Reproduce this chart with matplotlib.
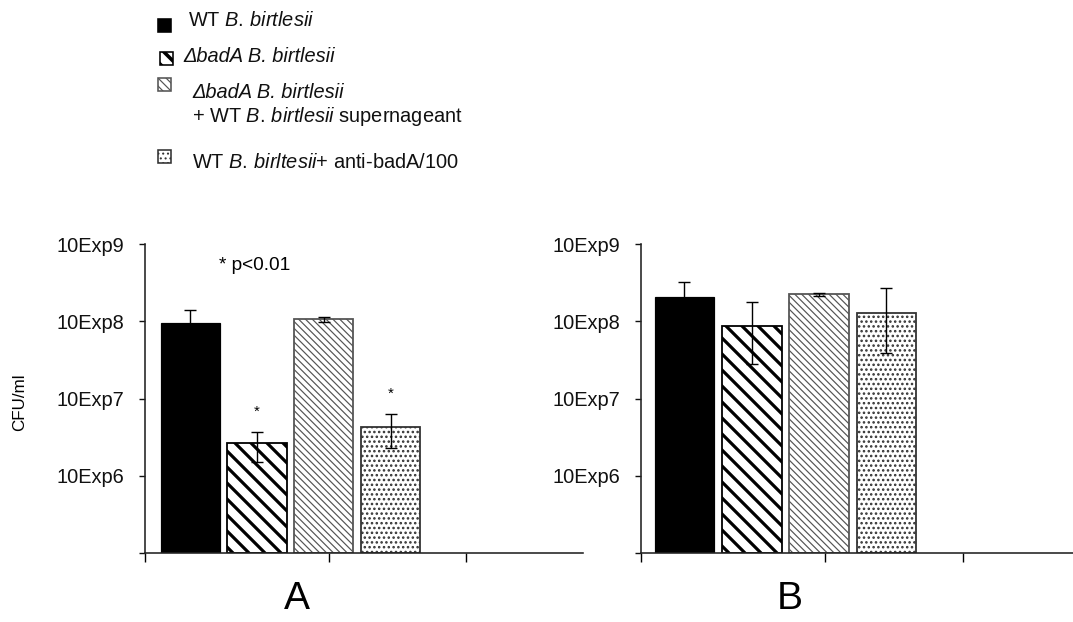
import matplotlib
matplotlib.use("Agg")
import matplotlib.pyplot as plt
from matplotlib.patches import Rectangle
import numpy as np

# ---------------- data ----------------
panels = ["A", "B"]
# each legend entry: list of (text, fully_italic) lines
series_labels = [
    [(r"WT $\mathit{B.\,birtlesii}$", False)],
    [("ΔbadA B. birtlesii", True)],
    [("ΔbadA B. birtlesii", True),
     (r"+ WT $\mathit{B.\,birtlesii}$ supernageant", False)],
    [(r"WT $\mathit{B.\,birltesii}$+ anti-badA/100", False)],
]
values_A = [9.6e7, 2.63e6, 1.07e8, 4.24e6]
err_lo_A = [0.44e8, 1.11e6, 0.08e8, 1.97e6]
err_hi_A = [0.44e8, 1.02e6, 0.08e8, 2.0e6]
signif_A = [False, True, False, True]

values_B = [2.08e8, 8.68e7, 2.25e8, 1.27e8]
err_lo_B = [1.1e8, 5.9e7, 0.15e8, 8.8e7]
err_hi_B = [1.1e8, 8.9e7, 0.09e8, 1.4e8]
signif_B = [False, False, False, False]

ytick_values = [1e5, 1e6, 1e7, 1e8, 1e9]
ytick_labels = ["", "10Exp6", "10Exp7", "10Exp8", "10Exp9"]
y_label = "CFU/ml"
p_note = "* p<0.01"

# ---------------- style ----------------
W, H, DPI = 1073, 622, 144
plt.rcParams['font.family'] = ['Liberation Sans', 'DejaVu Sans']
plt.rcParams['mathtext.fontset'] = 'custom'
plt.rcParams['mathtext.rm'] = 'Liberation Sans'
plt.rcParams['mathtext.it'] = 'Liberation Sans:italic'
plt.rcParams['mathtext.bf'] = 'Liberation Sans:bold'

styles = [
    dict(facecolor='black', edgecolor='black', hatch=None, hlw=1.0, lw=0.6),
    dict(facecolor='white', edgecolor='black', hatch='\\' * 3, hlw=1.6, lw=0.9),
    dict(facecolor='white', edgecolor='#555555', hatch='\\' * 7, hlw=0.6, lw=0.9),
    dict(facecolor='white', edgecolor='#333333', hatch='.' * 5, hlw=0.8, lw=0.9),
]
legend_hatch = [None, '\\' * 3, '\\' * 6, '.' * 5]
legend_hlw = [1.0, 1.8, 0.6, 0.6]

fig = plt.figure(figsize=(W / DPI, H / DPI), dpi=DPI)


def fx(x):
    return x / W


def fy(y):
    return 1 - y / H


ax_A = fig.add_axes([fx(145), fy(553), (583 - 145) / W, (553 - 244) / H])
ax_B = fig.add_axes([fx(641), fy(553), (1073 - 641) / W, (553 - 244) / H])

YMIN, YMAX = 1e5, 1e9
width = 0.89


def set_hatch(p, hatch, hlw):
    if hatch:
        p.set_hatch(hatch)
        if hasattr(p, 'set_hatch_linewidth'):
            p.set_hatch_linewidth(hlw)


def draw_panel(ax, vals, lo, hi, sig, xlim):
    x = np.arange(len(vals))
    ax.set_yscale('log')
    for i, v in enumerate(vals):
        st = styles[i]
        with plt.rc_context({'hatch.linewidth': st['hlw']}):
            bars = ax.bar(x[i], v - YMIN, width=width, bottom=YMIN,
                          facecolor=st['facecolor'], edgecolor=st['edgecolor'],
                          linewidth=st['lw'], zorder=2)
            for b in bars:
                set_hatch(b, st['hatch'], st['hlw'])
    ax.errorbar(x, vals, yerr=[lo, hi], fmt='none', ecolor='black',
                elinewidth=0.7, capsize=3.2, capthick=0.7, zorder=3)
    for i, s in enumerate(sig):
        if s:
            ax.annotate('*', xy=(x[i], vals[i] + hi[i]), xytext=(0, 10.5),
                        textcoords='offset points', ha='center', va='center',
                        fontsize=7.5)
    ax.set_ylim(YMIN, YMAX)
    ax.set_xlim(*xlim)
    ax.set_yticks(ytick_values)
    ax.set_yticklabels(ytick_labels)
    ax.yaxis.set_minor_locator(matplotlib.ticker.NullLocator())
    ax.set_xticks([xlim[0], 2.08, 4.13])
    ax.set_xticklabels([])
    ax.tick_params(axis='y', direction='out', length=3, width=0.7, pad=7.5,
                   labelsize=10, colors='#111111')
    ax.tick_params(axis='x', direction='out', length=4.5, width=0.7)
    for side in ('top', 'right'):
        ax.spines[side].set_visible(False)
    for side in ('left', 'bottom'):
        ax.spines[side].set_linewidth(0.8)
        ax.spines[side].set_color('#222222')
    ax.patch.set_alpha(0)


draw_panel(ax_A, values_A, err_lo_A, err_hi_A, signif_A, (-0.68, 5.885))
draw_panel(ax_B, values_B, err_lo_B, err_hi_B, signif_B, (-0.646, 5.77))

# panel labels
fig.text(fx(297), fy(599), panels[0], ha='center', va='center', fontsize=19.5)
fig.text(fx(790), fy(599), panels[1], ha='center', va='center', fontsize=19.5)

# y label
fig.text(fx(20), fy(402), y_label, rotation=90, ha='center', va='center', fontsize=8.5)

# p-value note
fig.text(fx(219), fy(265), p_note, ha='left', va='center', fontsize=9.5)

# legend (manual)
leg_boxes = [(158, 19), (160, 52), (158, 78), (158, 150)]
leg_text = [[(188, 21)], [(183, 56)], [(192, 93), (192, 117)], [(192, 162)]]
for i, lines in enumerate(series_labels):
    st = styles[i]
    bx, by = leg_boxes[i]
    with plt.rc_context({'hatch.linewidth': legend_hlw[i]}):
        r = Rectangle((fx(bx), fy(by + 13)), 13 / W, 13 / H, transform=fig.transFigure,
                      facecolor=st['facecolor'], edgecolor=st['edgecolor'],
                      linewidth=0.8)
        set_hatch(r, legend_hatch[i], legend_hlw[i])
        fig.add_artist(r)
    for (txt, ital), (tx, ty) in zip(lines, leg_text[i]):
        fig.text(fx(tx), fy(ty), txt, ha='left', va='center', fontsize=10,
                 fontstyle='italic' if ital else 'normal', color='#111111')

fig.savefig("out.png", dpi=DPI)
